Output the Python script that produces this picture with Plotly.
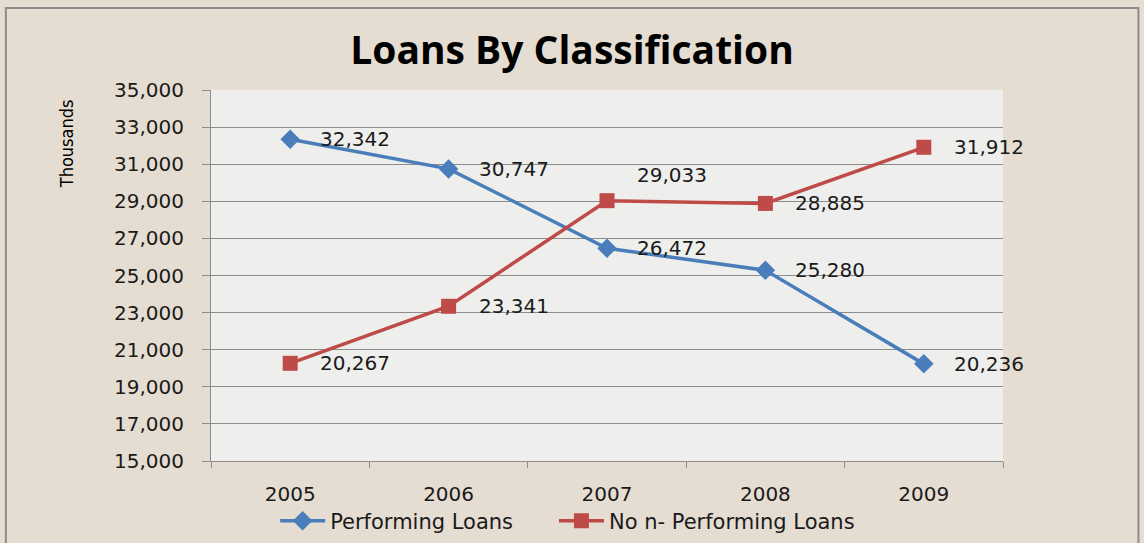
import plotly.graph_objects as go

years = ["2005", "2006", "2007", "2008", "2009"]
performing = [32342, 30747, 26472, 25280, 20236]
non_performing = [20267, 23341, 29033, 28885, 31912]
# vertical nudges (px) for the value labels of each series
label_lift_perf = [0, 0, 0, 0, 0]
label_lift_nonperf = [0, 0, 26, 0, 0]

label_font = "DejaVu Sans, Verdana, sans-serif"
title_font = "Open Sans, Lato, sans-serif"
blue = "#4a7ebb"
red = "#be4b48"

fig = go.Figure()

fig.add_trace(go.Scatter(
    x=years, y=performing, name="Performing Loans",
    mode="lines+markers", legend="legend",
    line=dict(color=blue, width=3.5),
    marker=dict(symbol="diamond", size=15, color=blue),
))

fig.add_trace(go.Scatter(
    x=years, y=non_performing, name="No n- Performing Loans",
    mode="lines+markers", legend="legend2",
    line=dict(color=red, width=3.5),
    marker=dict(symbol="square", size=15, color=red),
))

# value labels placed to the right of each marker (category index positions)
annotations = []
for series, lifts in ((performing, label_lift_perf), (non_performing, label_lift_nonperf)):
    for idx, (val, lift) in enumerate(zip(series, lifts)):
        annotations.append(dict(
            x=idx, y=val, xref="x", yref="y", text=f"{val:,}",
            showarrow=False, xanchor="left", yanchor="middle",
            xshift=28, yshift=lift,
            font=dict(size=20, color="#1a1a1a", family=label_font),
        ))

# units label at the top of the value axis
annotations.append(dict(
    x=-0.183, y=0.854, xref="paper", yref="paper", text="Thousands",
    textangle=-90, showarrow=False, xanchor="center", yanchor="middle",
    font=dict(size=18, color="#000000",
              family="Liberation Sans Narrow, DejaVu Sans Condensed, sans-serif"),
))

legend_style = dict(
    orientation="h", xanchor="left",
    yref="container", y=0.0405, yanchor="middle",
    font=dict(size=21, family=label_font), bgcolor="rgba(0,0,0,0)",
    itemwidth=45,
)

fig.update_layout(
    width=1144, height=543,
    margin=dict(l=211, r=141, t=90, b=82, autoexpand=False),
    paper_bgcolor="#e5ddd1",
    plot_bgcolor="#eeeeed",
    font=dict(family=label_font, size=20, color="#1a1a1a"),
    title=dict(
        text="<b>Loans By Classification</b>",
        x=0.5, xanchor="center", y=0.908, yanchor="middle",
        font=dict(size=39, color="#000000", family=title_font),
    ),
    showlegend=True,
    legend=dict(x=0.081, **legend_style),
    legend2=dict(x=0.433, **legend_style),
    annotations=annotations,
    shapes=[dict(
        type="rect", xref="paper", yref="paper",
        x0=-0.259, x1=1.171, y0=-0.30, y1=1.221,
        line=dict(color="#8c8c8c", width=2), fillcolor="rgba(0,0,0,0)",
        layer="below",
    )],
)

fig.update_xaxes(
    type="category", range=[-0.5, 4.5], automargin=False,
    showgrid=False, showline=True, linecolor="#8c8c8c", linewidth=1,
    ticks="outside", ticklen=6, tickcolor="#8c8c8c", tickson="boundaries",
    tickfont=dict(size=20), ticklabelstandoff=15,
)

fig.update_yaxes(
    range=[15000, 35000], tick0=15000, dtick=2000, tickformat=",d",
    automargin=False,
    showgrid=True, gridcolor="#8c8c8c", gridwidth=1,
    showline=True, linecolor="#8c8c8c", linewidth=1,
    ticks="outside", ticklen=8, tickcolor="#8c8c8c",
    tickfont=dict(size=20), zeroline=False, ticklabelstandoff=14,
)

fig.write_html("out.html")
